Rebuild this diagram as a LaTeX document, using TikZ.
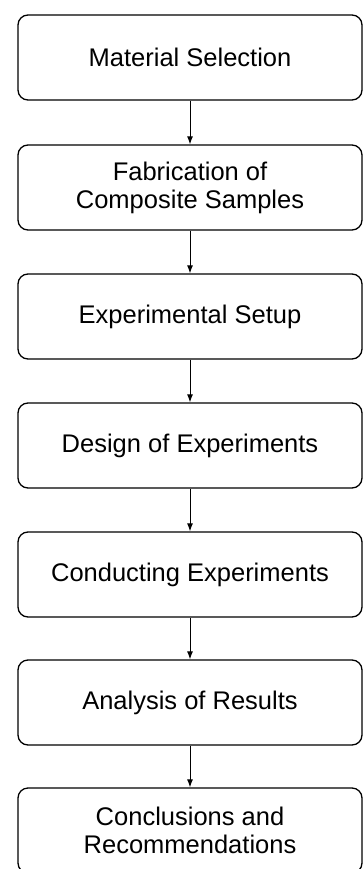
\documentclass[tikz,border=0pt]{standalone}
\usepackage{fontspec}
\setmainfont{Liberation Sans}
\usetikzlibrary{arrows.meta}

\begin{document}
\begin{tikzpicture}[x=1pt, y=1pt,
    stepbox/.style={shape=rectangle, rounded corners=10pt, draw=black, line width=1.3pt,
        minimum width=344pt, minimum height=85pt, inner sep=0pt, align=center,
        font=\fontsize{25.5}{28}\selectfont}]
    \useasboundingbox (0,0) rectangle (363,-869);
    \node[stepbox] (1) at (190,-57.5) {Material Selection};
    \node[stepbox] (2) at (190,-187.5) {Fabrication of\\Composite Samples};
    \node[stepbox] (3) at (190,-316.5) {Experimental Setup};
    \node[stepbox] (4) at (190,-445.5) {Design of Experiments};
    \node[stepbox] (5) at (190,-574.5) {Conducting Experiments};
    \node[stepbox] (6) at (190,-702.5) {Analysis of Results};
    \node[stepbox] (7) at (190,-830.5) {Conclusions and\\Recommendations};
    \draw[-{Latex[length=8pt,width=6pt]}, line width=1pt] (1) -- (2);
    \draw[-{Latex[length=8pt,width=6pt]}, line width=1pt] (2) -- (3);
    \draw[-{Latex[length=8pt,width=6pt]}, line width=1pt] (3) -- (4);
    \draw[-{Latex[length=8pt,width=6pt]}, line width=1pt] (4) -- (5);
    \draw[-{Latex[length=8pt,width=6pt]}, line width=1pt] (5) -- (6);
    \draw[-{Latex[length=8pt,width=6pt]}, line width=1pt] (6) -- (7);
\end{tikzpicture}
\end{document}
